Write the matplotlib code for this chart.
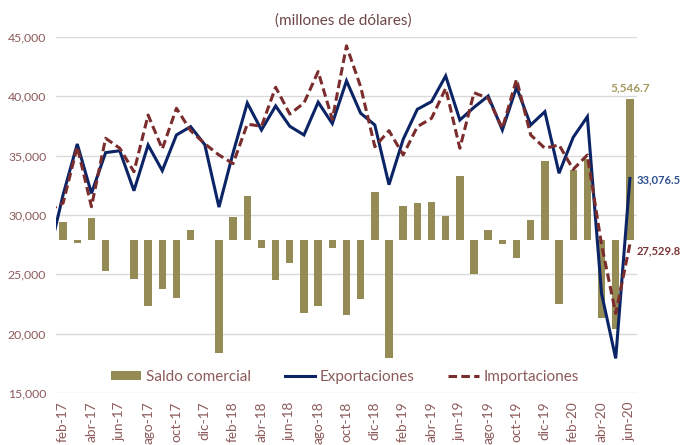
import matplotlib
matplotlib.use("Agg")
import matplotlib.pyplot as plt
from matplotlib.patches import Patch
from matplotlib.lines import Line2D
import numpy as np

# ---- data -------------------------------------------------------------
months = ["ene-17", "feb-17", "mar-17", "abr-17", "may-17", "jun-17", "jul-17", "ago-17",
          "sep-17", "oct-17", "nov-17", "dic-17",
          "ene-18", "feb-18", "mar-18", "abr-18", "may-18", "jun-18", "jul-18", "ago-18",
          "sep-18", "oct-18", "nov-18", "dic-18",
          "ene-19", "feb-19", "mar-19", "abr-19", "may-19", "jun-19", "jul-19", "ago-19",
          "sep-19", "oct-19", "nov-19", "dic-19",
          "ene-20", "feb-20", "mar-20", "abr-20", "may-20", "jun-20"]

# Exportaciones / Importaciones (ene-17 .. jun-20)
exportaciones = [26600, 31700, 35980, 31820, 35250, 35410, 32040, 35890, 33730, 36740, 37440, 35920,
                 30660, 35250, 39430, 37160, 39180, 37470, 36740, 39500, 37700, 41300, 38570, 37580,
                 32550, 36370, 38900, 39550, 41710, 38000, 39070, 40020, 37160, 40760, 37580, 38700,
                 33510, 36540, 38280, 23390, 17910, 33076.5]
importaciones = [30380, 31000, 35750, 30690, 36460, 35620, 33640, 38420, 35560, 38990, 37100, 36000,
                 35050, 34330, 37650, 37470, 40760, 38500, 39430, 42080, 38050, 44250, 40800, 35750,
                 37100, 35050, 37440, 38140, 40670, 35620, 40300, 39830, 37300, 41430, 36740, 35620,
                 35900, 33840, 35050, 27500, 21700, 27529.8]
# Saldo comercial (feb-17 .. jun-20)
saldo = [735, -90, 890, -1206, 20, -1534, -2583, -1927, -2255, 420, 30,
         -4418, 918, 1743, -288, -1560, -892, -2871, -2583, -300, -2936, -2320, 1900,
         -4641, 1350, 1482, 1508, 957, 2530, -1311, 393, -131, -682, 800, 3119,
         -2490, 2765, 3213, -3068, -3500, 5546.7]

y_ticks = [15000, 20000, 25000, 30000, 35000, 40000, 45000]

# ---- style -------------------------------------------------------------
plt.rcParams['font.family'] = ['Lato', 'DejaVu Sans']
c_bar = '#958B55'
c_exp = '#0B2466'
c_imp = '#7B2C2C'
c_txt = '#8C5A5A'
c_title = '#6E4646'
c_grid = '#D9D9D9'

fig = plt.figure(figsize=(6.83, 4.45), dpi=100)
pos = [0.082, 0.117, 0.8506, 0.80]

x_all = np.arange(len(months))
x_bar = x_all[1:]

# bottom layer: grid + ticks
ax = fig.add_axes(pos)
ax.set_xlim(0.5, len(months) - 0.5)
ax.set_ylim(15000, 45000)
ax.set_yticks(y_ticks)
ax.set_yticklabels([f"{v:,}" for v in y_ticks], fontsize=8.8, color=c_txt)
ax.set_xticks(x_all[1::2])
ax.set_xticklabels(months[1::2], rotation=90, fontsize=9.8, color=c_txt)
ax.tick_params(axis='both', length=0)
ax.tick_params(axis='y', pad=7)
ax.tick_params(axis='x', pad=6)
ax.grid(axis='y', color=c_grid, lw=1.0)
for s in ax.spines.values():
    s.set_visible(False)

# middle layer: bars on hidden secondary scale
axb = fig.add_axes(pos, sharex=ax)
axb.set_ylim(-6000, 8000)
axb.bar(x_bar, saldo, width=0.52, color=c_bar, zorder=2)
axb.axis('off')
axb.patch.set_visible(False)

# top layer: lines on primary scale
axl = fig.add_axes(pos, sharex=ax, sharey=ax)
axl.plot(x_all, exportaciones, color=c_exp, lw=2.2, solid_joinstyle='miter')
axl.plot(x_all, importaciones, color=c_imp, lw=2.2, linestyle=(0, (2.8, 1.4)))
axl.axis('off')
axl.patch.set_visible(False)

# data labels
axb.annotate(f"{saldo[-1]:,.1f}", xy=(x_bar[-1], saldo[-1]), xytext=(0, 4),
             textcoords='offset points', ha='center', va='bottom',
             fontsize=8.5, fontweight='bold', color='#A39A5E', annotation_clip=False)
axl.annotate(f"{exportaciones[-1]:,.1f}", xy=(x_all[-1], exportaciones[-1]), xytext=(5, -1),
             textcoords='offset points', ha='left', va='center',
             fontsize=8, fontweight='bold', color='#2E4F8F', annotation_clip=False)
axl.annotate(f"{importaciones[-1]:,.1f}", xy=(x_all[-1], importaciones[-1]), xytext=(5, -5),
             textcoords='offset points', ha='left', va='center',
             fontsize=8, fontweight='bold', color='#7A3535', annotation_clip=False)

# legend
handles = [Patch(facecolor=c_bar, edgecolor='none'),
           Line2D([], [], color=c_exp, lw=2.2),
           Line2D([], [], color=c_imp, lw=2.2, linestyle=(0, (2.8, 1.4)))]
labels = ["Saldo comercial", "Exportaciones", "Importaciones"]
leg = axl.legend(handles, labels, ncol=3, loc='center', bbox_to_anchor=(0.497, 0.045),
                 frameon=False, fontsize=11, handlelength=2.0, handleheight=0.5,
                 handletextpad=0.3, columnspacing=2.2)
for t in leg.get_texts():
    t.set_color(c_txt)

fig.text(0.503, 0.953, "(millones de dólares)", ha='center', va='center',
         fontsize=11, color=c_title)

fig.savefig("out.png", dpi=100)
